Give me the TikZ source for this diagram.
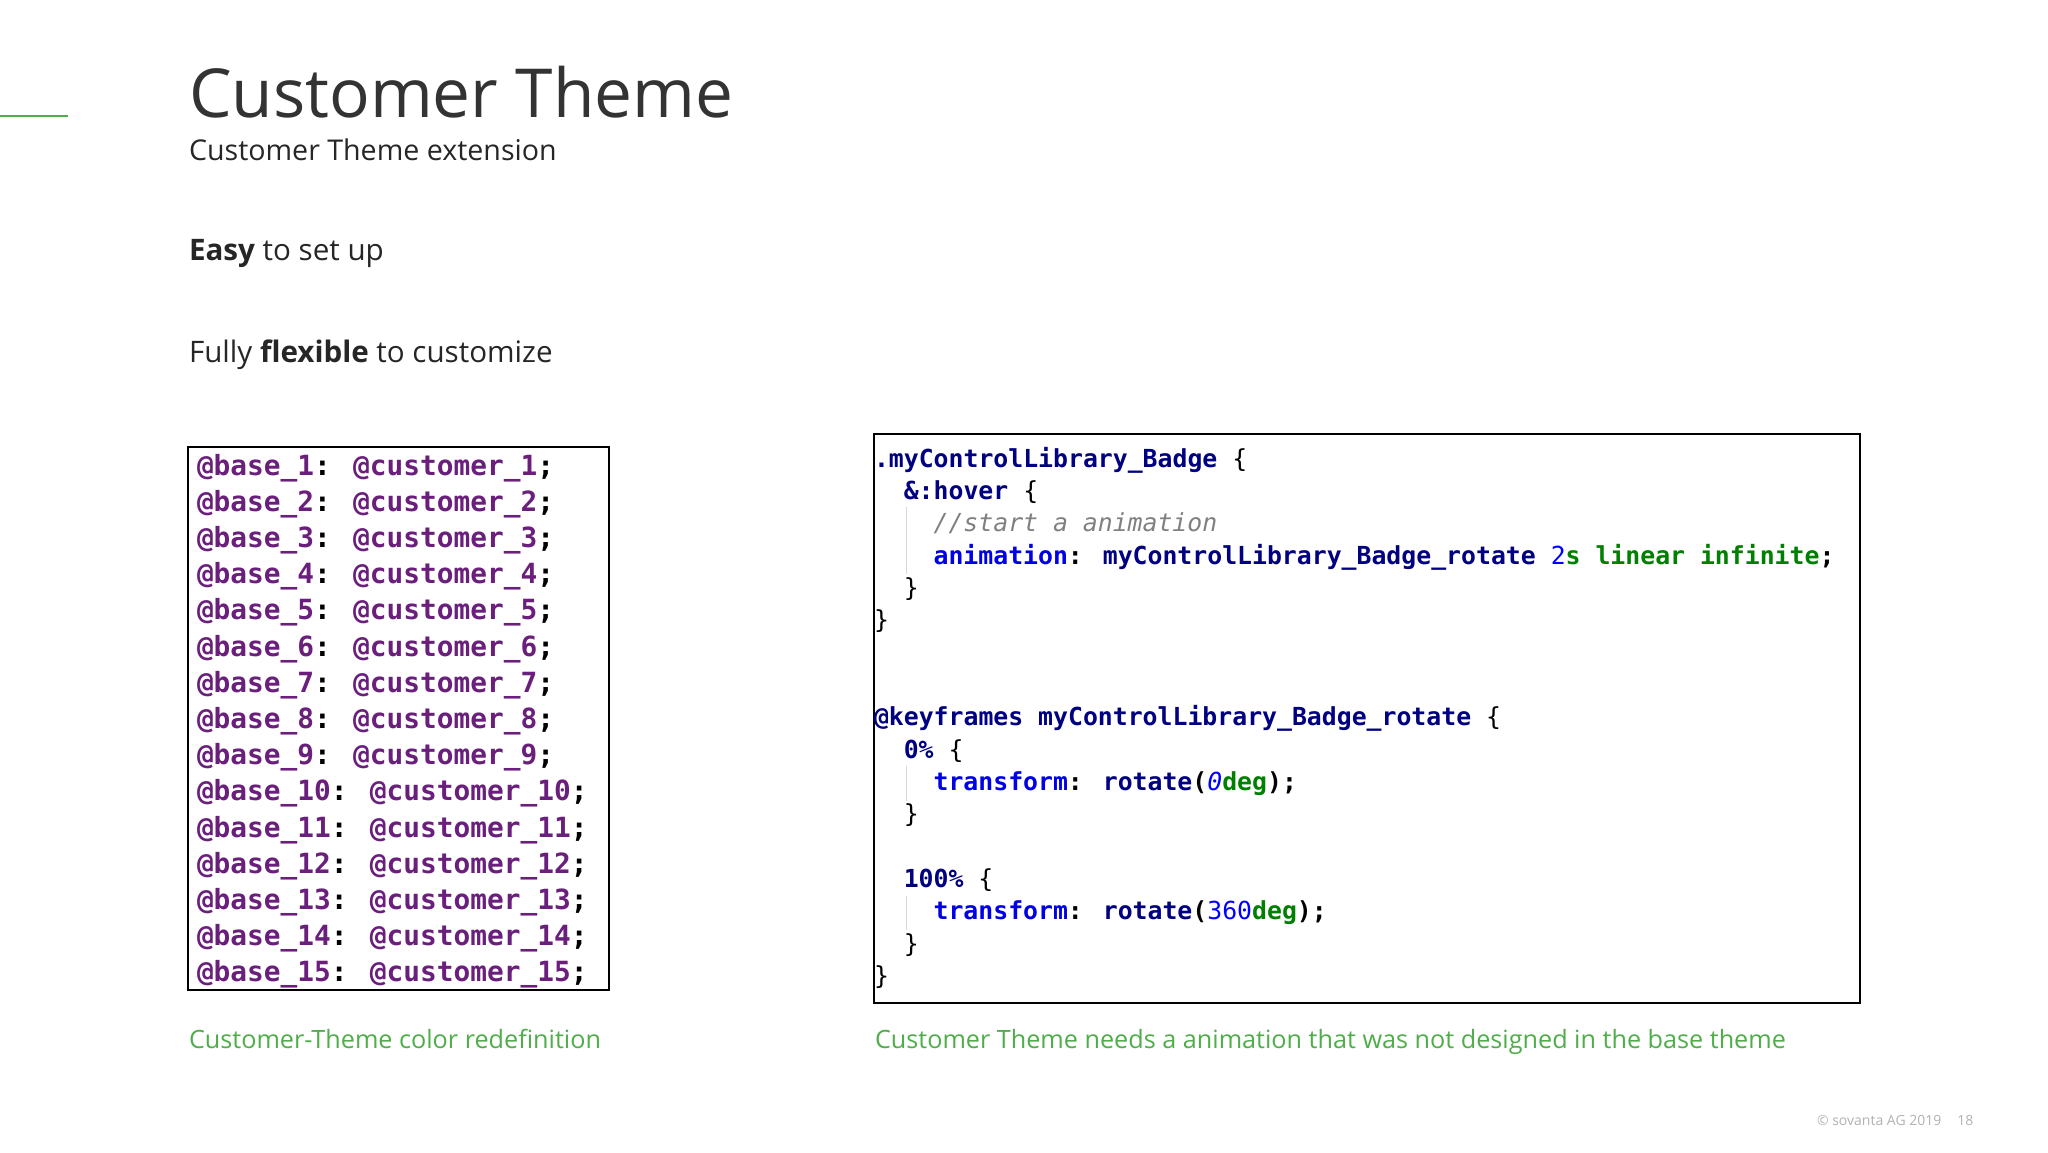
\documentclass[tikz,border=0pt]{standalone}
\usepackage{fontspec}
\setmainfont{Open Sans}
\newfontfamily\cmono{DejaVu Sans Mono}
\definecolor{grn}{HTML}{4FAE4A}
\definecolor{purp}{HTML}{6B1F7C}
\definecolor{kw}{HTML}{000080}
\definecolor{prop}{HTML}{0000E6}
\definecolor{num}{HTML}{0000FF}
\definecolor{gk}{HTML}{008000}
\definecolor{cmt}{HTML}{808080}
\begin{document}
\begin{tikzpicture}[x=0.5pt,y=-0.5pt,
  lbl/.style={anchor=base west,inner sep=0pt,outer sep=0pt},
  lcode/.style={lbl,font=\cmono\bfseries\fontsize{13.9}{16}\selectfont,text=purp},
  rcode/.style={lbl,font=\cmono\bfseries\fontsize{12.4}{14}\selectfont,text=black},
  guide/.style={draw=black!15,line width=0.6pt},
  captxt/.style={lbl,font=\fontsize{12.6}{15}\selectfont,text=grn}]
\useasboundingbox (0,0) rectangle (2048,1152);
\fill[white] (0,0) rectangle (2048,1152);
\draw[grn,line width=1pt] (0,116) -- (68,116);
\node[lbl,font=\fontsize{33.8}{40}\selectfont,text=black!80] (title) at (189,117) {Customer Theme};
\node[lbl,font=\fontsize{14.3}{17}\selectfont,text=black!85] (sub) at (189,160) {Customer Theme extension};
\node[lbl,font=\fontsize{14.8}{18}\selectfont,text=black!85] (easy) at (189,260) {\textbf{Easy} to set up};
\node[lbl,font=\fontsize{14.8}{18}\selectfont,text=black!85] (flex) at (189,362) {Fully \textbf{flexible} to customize};
% left box
\draw[black,line width=1pt] (188,447) rectangle (609,990);
\foreach \i in {1,...,15}{
  \node[lcode] (l\i) at (197,{475+(\i-1)*36.2}) {@base\_\i\textcolor{black}{:} @customer\_\i\textcolor{black}{;}};
}
% right box
\draw[black,line width=1pt] (874,434) rectangle (1860,1003);
\def\cw{14.9}
\node[rcode] (r0) at (874,467) {\textcolor{kw}{.myControlLibrary\_Badge} \mdseries\{};
\node[rcode] (r1) at ({874+2*\cw},{467+1*32.35}) {\textcolor{kw}{\&:hover} \mdseries\{};
\node[rcode,font=\cmono\itshape\fontsize{12.4}{14}\selectfont,text=cmt] (r2) at ({874+4*\cw},{467+2*32.35}) {//start a animation};
\node[rcode] (r3) at ({874+4*\cw},{467+3*32.35}) {\textcolor{prop}{animation}: \textcolor{kw}{myControlLibrary\_Badge\_rotate} \textcolor{num}{\mdseries 2}\textcolor{gk}{s linear infinite};};
\node[rcode] (r4) at ({874+2*\cw},{467+4*32.35}) {\mdseries\}};
\node[rcode] (r5) at (874,{467+5*32.35}) {\mdseries\}};
\node[rcode] (r8) at (874,{467+8*32.35}) {\textcolor{kw}{@keyframes myControlLibrary\_Badge\_rotate} \mdseries\{};
\node[rcode] (r9) at ({874+2*\cw},{467+9*32.35}) {\textcolor{kw}{0\%} \mdseries\{};
\node[rcode] (r10) at ({874+4*\cw},{467+10*32.35}) {\textcolor{prop}{transform}: \textcolor{kw}{rotate}(\textcolor{num}{\mdseries\itshape 0}\textcolor{gk}{deg});};
\node[rcode] (r11) at ({874+2*\cw},{467+11*32.35}) {\mdseries\}};
\node[rcode] (r13) at ({874+2*\cw},{467+13*32.35}) {\textcolor{kw}{100\%} \mdseries\{};
\node[rcode] (r14) at ({874+4*\cw},{467+14*32.35}) {\textcolor{prop}{transform}: \textcolor{kw}{rotate}(\textcolor{num}{\mdseries 360}\textcolor{gk}{deg});};
\node[rcode] (r15) at ({874+2*\cw},{467+15*32.35}) {\mdseries\}};
\node[rcode] (r16) at (874,{467+16*32.35}) {\mdseries\}};
\draw[guide] ({874+2.2*\cw},{467+1*32.35+8}) -- ({874+2.2*\cw},{467+4*32.35-22});
\draw[guide] ({874+2.2*\cw},{467+9*32.35+8}) -- ({874+2.2*\cw},{467+11*32.35-22});
\draw[guide] ({874+2.2*\cw},{467+13*32.35+8}) -- ({874+2.2*\cw},{467+15*32.35-22});
% captions
\node[captxt] (c1) at (189,1048) {Customer-Theme color redefinition};
\node[captxt] (c2) at (875,1048) {Customer Theme needs a animation that was not designed in the base theme};
\node[lbl,font=\fontsize{7}{8}\selectfont,text=black!30] (foot) at (1817,1125) {© sovanta AG 2019\hspace{8pt}18};
\end{tikzpicture}
\end{document}
